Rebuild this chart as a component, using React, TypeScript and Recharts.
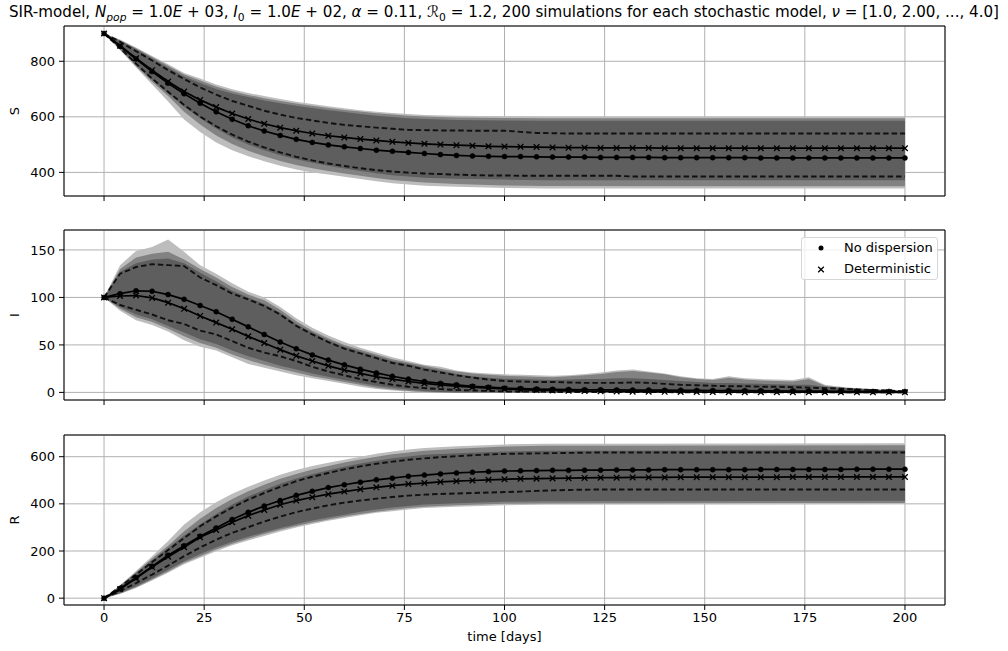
import React from 'react';
import {
  ComposedChart, Area, Line, XAxis, YAxis, CartesianGrid, ReferenceArea,
} from 'recharts';

// curves are sampled every 4 days (one marker per sample)
const DAYS = [0, 4, 8, 12, 16, 20, 24, 28, 32, 36, 40, 44, 48, 52, 56, 60, 64, 68, 72, 76, 80, 84, 88, 92, 96, 100,
  104, 108, 112, 116, 120, 124, 128, 132, 136, 140, 144, 148, 152, 156, 160, 164, 168, 172, 176, 180, 184, 188, 192, 196, 200];
const X_TICKS = [0, 25, 50, 75, 100, 125, 150, 175, 200];

// ---- S ----
const S_NODISP = [900, 854, 808, 763, 721, 683, 649, 618, 591, 568, 549, 533, 519, 508, 499, 492, 486, 480, 476, 472, 468,
  464, 461, 459, 458, 457, 457, 456, 455, 455, 455, 454, 454, 454, 454, 453, 453, 453, 453, 453, 453,
  452, 452, 452, 452, 452, 452, 452, 452, 452, 452];
const S_DET = [900, 856, 811, 768, 727, 691, 661, 635, 612, 592, 575, 561, 550, 540, 532, 526, 520, 515, 510, 506, 503,
  500, 498, 496, 494, 493, 492, 491, 490, 489, 489, 488, 488, 488, 488, 487, 487, 487, 487, 487, 487,
  487, 487, 487, 487, 487, 487, 487, 487, 487, 487];
const S_DASH_HI = [900, 870, 836, 803, 768, 736, 706, 680, 657, 640, 622, 608, 596, 587, 578, 571, 566, 561, 557, 553, 552,
  551, 551, 550, 550, 550, 546, 542, 541, 540, 540, 540, 540, 540, 540, 540, 540, 540, 540, 540, 540,
  540, 540, 540, 540, 540, 540, 540, 540, 540, 540];
const S_DASH_LO = [900, 848, 791, 738, 690, 643, 601, 566, 536, 511, 490, 472, 456, 443, 432, 423, 415, 408, 403, 399, 396,
  394, 392, 390, 389, 389, 388, 388, 388, 388, 388, 388, 388, 385, 385, 385, 385, 385, 385, 385, 385,
  385, 385, 385, 385, 385, 385, 385, 385, 385, 385];
// [day, low, high]
const S_BAND_OUTER = [[0, 900, 900], [4, 840, 878], [8, 778, 850], [12, 716, 819], [16, 655, 789], [20, 590, 758],
  [24, 545, 738], [28, 508, 716], [32, 480, 699], [36, 458, 686], [40, 440, 675], [44, 424, 664], [48, 410, 654],
  [52, 400, 646], [56, 392, 638], [60, 384, 631], [64, 376, 624], [68, 368, 618], [72, 361, 614], [76, 356, 610],
  [80, 352, 607], [88, 348, 604], [100, 344, 602], [110, 342, 600], [200, 342, 600]];
const S_BAND_MID = [[0, 900, 900], [4, 843, 876], [8, 782, 847], [12, 726, 815], [16, 675, 784], [20, 618, 752],
  [24, 572, 731], [28, 533, 709], [32, 502, 692], [36, 478, 679], [40, 458, 667], [44, 441, 657], [48, 427, 648],
  [52, 415, 640], [56, 405, 632], [60, 396, 625], [64, 388, 619], [68, 380, 613], [72, 373, 608], [76, 368, 604],
  [80, 364, 601], [88, 358, 598], [100, 353, 596], [110, 351, 595], [200, 350, 595]];
const S_BAND_CORE = [[0, 900, 900], [4, 845, 874], [8, 787, 843], [12, 733, 810], [16, 684, 777], [20, 636, 745],
  [24, 595, 722], [28, 558, 700], [32, 526, 684], [36, 500, 671], [40, 480, 659], [44, 462, 649], [48, 447, 640],
  [52, 435, 632], [56, 424, 624], [60, 414, 617], [64, 405, 610], [68, 397, 604], [72, 390, 599], [76, 385, 595],
  [80, 381, 592], [88, 377, 589], [100, 374, 587], [110, 372, 586], [200, 372, 586]];

// ---- I ----
const I_NODISP = [100, 104, 107, 106.5, 103, 98, 91.5, 85, 77, 69, 61, 53, 46, 39.5, 34, 29, 24.5, 20.5, 17, 14, 11.5,
  9.5, 8, 6.5, 5.5, 4.5, 4, 3.5, 3.2, 3, 2.8, 2.7, 2.6, 2.5, 2.4, 2.3, 2.2, 2.1, 2, 1.9, 1.8,
  1.7, 1.6, 1.5, 1.4, 1.3, 1.2, 1.1, 1, 1, 0.9];
const I_DET = [100, 101.5, 102, 99.5, 94.5, 88, 80.5, 73.5, 66.5, 59, 52, 45, 38.5, 33, 28, 23.5, 20, 16.5, 14, 11.5, 9.5,
  8, 6.5, 5.5, 4.5, 3.7, 3, 2.5, 2, 1.7, 1.4, 1.2, 1, 0.8, 0.7, 0.6, 0.5, 0.4, 0.35, 0.3, 0.25,
  0.2, 0.2, 0.2, 0.15, 0.15, 0.1, 0.1, 0.1, 0.1, 0.1];
const I_DASH_HI = [100, 125, 132, 135, 134, 133, 121, 113, 104, 98, 91, 82, 70, 61, 53, 46, 41, 36, 31, 28, 24,
  21, 18, 15.5, 13.5, 12, 11.5, 11, 11, 10.5, 10, 10, 10, 10.5, 10, 9, 8, 7.5, 7, 6.5, 6.5,
  6, 6, 5.5, 5, 4.5, 4, 3, 2.5, 2, 1];
const I_DASH_LO = [100, 92, 87, 82, 76, 72, 65, 61, 54, 47, 42, 38, 33, 27, 22, 18, 14, 11, 8, 6, 4.5,
  3.5, 2.5, 2, 1.5, 1, 1, 1, 0.5, 0.5, 0.5, 0.5, 0.5, 0.5, 0.5, 0.5, 0, 0, 0, 0, 0,
  0, 0, 0, 0, 0, 0, 0, 0, 0, 0];
const I_BAND_OUTER = [[0, 100, 100], [4, 86, 134], [8, 76, 149], [12, 71, 153], [16, 64, 161], [20, 55, 148], [24, 48, 134],
  [28, 44, 125], [32, 37, 115], [36, 30, 106], [40, 26, 100], [44, 22, 90], [48, 18, 78], [52, 15, 68], [56, 12, 60],
  [60, 9, 53], [64, 6, 47], [68, 3.5, 42], [72, 2, 37], [76, 1, 33], [80, 0, 29], [84, 0, 27], [88, 0, 23], [92, 0, 21],
  [96, 0, 20], [100, 0, 19], [104, 0, 18.5], [108, 0, 18], [112, 0, 17.5], [116, 0, 18], [120, 0, 19.5], [124, 0, 21],
  [128, 0, 23], [132, 0, 24], [136, 0, 22], [140, 0, 20], [144, 0, 17], [148, 0, 15], [152, 0, 14], [156, 0, 17],
  [160, 0, 15], [164, 0, 14], [168, 0, 13.5], [172, 0, 13], [176, 0, 16], [180, 0, 8], [184, 0, 6], [188, 0, 4.5],
  [192, 0, 3.5], [196, 0, 2.5], [200, 0, 1.5]];
const I_BAND_MID = [[0, 100, 100], [4, 88, 130], [8, 79, 142], [12, 74, 146], [16, 67, 148], [20, 59, 140], [24, 52, 130],
  [28, 47, 121], [32, 40, 111], [36, 34, 103], [40, 29, 97], [44, 25, 87], [48, 21, 75], [52, 17, 65], [56, 14, 57],
  [60, 11, 50], [64, 8, 45], [68, 5, 40], [72, 3, 35], [76, 1.5, 31.5], [80, 0.5, 28], [84, 0, 25], [88, 0, 22],
  [92, 0, 20], [96, 0, 18.5], [100, 0, 17.5], [104, 0, 17], [108, 0, 16.5], [112, 0, 16], [116, 0, 17], [120, 0, 18],
  [124, 0, 19.5], [128, 0, 21.5], [132, 0, 22.5], [136, 0, 21], [140, 0, 19], [144, 0, 16], [148, 0, 14], [152, 0, 13],
  [156, 0, 15.5], [160, 0, 13.5], [164, 0, 12.5], [168, 0, 12], [172, 0, 11.5], [176, 0, 14], [180, 0, 7], [184, 0, 5],
  [188, 0, 4], [192, 0, 3], [196, 0, 2], [200, 0, 1]];
const I_BAND_CORE = [[0, 100, 100], [4, 90, 127], [8, 82, 136], [12, 77, 140], [16, 70, 141], [20, 63, 136], [24, 56, 126],
  [28, 51, 117], [32, 44, 107], [36, 38, 100], [40, 33, 93], [44, 28, 84], [48, 24, 72], [52, 20, 63], [56, 16.5, 55],
  [60, 13, 48], [64, 10, 43], [68, 7, 38], [72, 5, 33], [76, 3, 30], [80, 1.5, 26], [84, 0.5, 23], [88, 0, 19.5],
  [92, 0, 17], [96, 0, 15.5], [100, 0, 14.5], [104, 0, 14], [108, 0, 13.5], [112, 0, 13], [116, 0, 13.5], [120, 0, 14],
  [124, 0, 14], [128, 0, 15], [132, 0, 15], [136, 0, 14], [140, 0, 13], [144, 0, 12], [148, 0, 11], [152, 0, 10],
  [156, 0, 10], [160, 0, 9.5], [164, 0, 9], [168, 0, 8.5], [172, 0, 8], [176, 0, 8], [180, 0, 6], [184, 0, 5],
  [188, 0, 4], [192, 0, 3], [196, 0, 2], [200, 0, 1]];

// ---- R ----
const R_NODISP = [0, 41, 87, 135, 182, 222, 263, 298, 334, 364, 391, 414, 436, 453, 469, 481, 492, 502, 509, 517, 522,
  527, 531, 534, 537, 539, 540, 541, 542, 542, 543, 543, 544, 544, 544, 545, 545, 545, 545, 545, 545,
  546, 546, 546, 546, 546, 546, 547, 547, 547, 547];
const R_DET = [0, 38, 84, 132, 176, 216, 258, 289, 322, 350, 374, 396, 414, 428, 441, 452, 462, 470, 477, 484, 488,
  493, 496, 499, 502, 504, 506, 507, 508, 509, 510, 511, 511, 512, 512, 512, 513, 513, 513, 513, 513,
  513, 513, 514, 514, 514, 514, 514, 514, 514, 514];
const R_DASH_HI = [0, 48, 100, 153, 204, 255, 305, 347, 384, 418, 446, 472, 496, 515, 531, 546, 559, 570, 579, 587, 593,
  598, 602, 606, 609, 612, 613, 614, 615, 616, 617, 618, 618, 618, 618, 618, 618, 618, 618, 618, 618,
  618, 618, 618, 618, 618, 618, 618, 618, 618, 618];
const R_DASH_LO = [0, 30, 64, 100, 138, 178, 215, 248, 277, 301, 325, 346, 365, 380, 394, 405, 414, 422, 429, 435, 439,
  442, 444, 446, 448, 450, 452, 455, 457, 459, 460, 461, 461, 461, 461, 461, 461, 461, 461, 461, 461,
  461, 461, 461, 461, 461, 461, 461, 461, 461, 461];
const R_BAND_OUTER = [[0, 0, 0], [4, 18, 56], [8, 43, 115], [12, 75, 178], [16, 108, 242], [20, 144, 312], [24, 171, 364],
  [28, 199, 407], [32, 224, 443], [36, 245, 473], [40, 264, 499], [44, 283, 523], [48, 300, 544], [52, 315, 561],
  [56, 328, 574], [60, 340, 587], [64, 352, 600], [68, 362, 612], [72, 369, 622], [76, 376, 630], [80, 382, 637],
  [88, 388, 644], [100, 394, 652], [110, 397, 655], [200, 399, 657]];
const R_BAND_MID = [[0, 0, 0], [4, 20, 53], [8, 46, 111], [12, 79, 168], [16, 113, 222], [20, 150, 284], [24, 178, 337],
  [28, 206, 382], [32, 231, 421], [36, 252, 453], [40, 272, 481], [44, 290, 506], [48, 306, 527], [52, 321, 546],
  [56, 334, 561], [60, 346, 575], [64, 357, 588], [68, 367, 600], [72, 375, 610], [76, 382, 618], [80, 388, 625],
  [88, 394, 634], [100, 400, 643], [110, 402, 646], [200, 404, 649]];
const R_BAND_CORE = [[0, 0, 0], [4, 22, 51], [8, 50, 106], [12, 84, 161], [16, 120, 213], [20, 157, 266], [24, 187, 314],
  [28, 215, 357], [32, 239, 397], [36, 260, 431], [40, 280, 459], [44, 298, 485], [48, 314, 507], [52, 329, 526],
  [56, 342, 542], [60, 354, 557], [64, 366, 571], [68, 376, 583], [72, 384, 593], [76, 391, 601], [80, 397, 608],
  [88, 403, 615], [100, 409, 622], [110, 411, 625], [200, 413, 627]];

const BAND_COLORS = ['#bdbdbd', '#828282', '#5e5e5e'];
const FONT = 'DejaVu Sans';

const toLine = (vals: number[]) => DAYS.map((day, i) => ({ day, v: vals[i] }));
const toBand = (rows: number[][]) => rows.map(([day, lo, hi]) => ({ day, range: [lo, hi] }));

const XMarker = ({ cx, cy }: any) => {
  if (cx == null || cy == null) return null;
  const s = 2.8;
  return (
    <path
      d={`M${cx - s},${cy - s}L${cx + s},${cy + s}M${cx - s},${cy + s}L${cx + s},${cy - s}`}
      stroke="#000" strokeWidth={1.3} fill="none"
    />
  );
};

const AxisName = ({ text }: any) => (
  <text x={19} y={111} transform="rotate(-90 19 111)" textAnchor="middle" fontSize={13} fill="#000">
    {text}
  </text>
);

interface PanelProps {
  name: string;
  top: number;
  height: number;
  domain: [number, number];
  yTicks: number[];
  bands: number[][][];
  dashHi: number[];
  dashLo: number[];
  noDisp: number[];
  det: number[];
  bottom?: boolean;
}

function Panel({ name, top, height, domain, yTicks, bands, dashHi, dashLo, noDisp, det, bottom }: PanelProps) {
  return (
    <div style={{ position: 'absolute', left: 0, top }}>
      <ComposedChart width={1008} height={height} margin={{ top: 26, right: 63, bottom: 0, left: 0 }}>
        <XAxis
          dataKey="day"
          type="number"
          domain={[-10, 210]}
          ticks={X_TICKS}
          allowDataOverflow
          axisLine={false}
          tickSize={5}
          tickMargin={3}
          tickLine={{ stroke: '#000' }}
          tick={{ fontSize: 13, fill: '#000' }}
          tickFormatter={bottom ? undefined : () => ''}
          height={bottom ? 46 : 30}
          label={bottom ? { value: 'time [days]', position: 'insideBottom', offset: 10, fontSize: 13, fill: '#000' } : undefined}
        />
        <YAxis
          type="number"
          domain={domain}
          ticks={yTicks}
          allowDataOverflow
          width={64}
          axisLine={false}
          tickSize={5}
          tickMargin={4}
          tickLine={{ stroke: '#000' }}
          tick={{ fontSize: 13, fill: '#000' }}
          label={<AxisName text={name} />}
        />
        {bands.map((b, i) => (
          <Area
            key={i}
            data={toBand(b)}
            dataKey="range"
            type="linear"
            stroke="none"
            fill={BAND_COLORS[i]}
            fillOpacity={1}
            activeDot={false}
            isAnimationActive={false}
          />
        ))}
        <CartesianGrid stroke="#b0b0b0" strokeWidth={1} />
        <Line data={toLine(dashHi)} dataKey="v" type="linear" stroke="#111" strokeWidth={1.9}
          strokeDasharray="5.5 3" dot={false} activeDot={false} isAnimationActive={false} />
        <Line data={toLine(dashLo)} dataKey="v" type="linear" stroke="#111" strokeWidth={1.9}
          strokeDasharray="5.5 3" dot={false} activeDot={false} isAnimationActive={false} />
        <Line data={toLine(det)} dataKey="v" type="linear" stroke="#000" strokeWidth={1.7}
          dot={(p: any) => <XMarker key={`x-${p.index}`} cx={p.cx} cy={p.cy} />}
          activeDot={false} isAnimationActive={false} />
        <Line data={toLine(noDisp)} dataKey="v" type="linear" stroke="#000" strokeWidth={1.7}
          dot={{ r: 2.5, fill: '#000', stroke: '#000', strokeWidth: 0.5 }}
          activeDot={false} isAnimationActive={false} />
        <ReferenceArea x1={-10} x2={210} y1={domain[0]} y2={domain[1]} fill="none" stroke="#000"
          strokeWidth={1} ifOverflow="visible" />
      </ComposedChart>
    </div>
  );
}

const Title = () => (
  <svg width={1008} height={26} style={{ position: 'absolute', left: 0, top: 0 }}>
    <text x={504} y={17} textAnchor="middle" fontSize={15.5} fill="#000"
      style={{ fontFamily: "'DejaVu Sans Condensed', 'DejaVu Sans'", fontStretch: 'condensed' }}
      textLength={990} lengthAdjust="spacingAndGlyphs">
      SIR-model, <tspan fontStyle="italic">N</tspan><tspan fontStyle="italic" fontSize={11} dy={3.5}>pop</tspan><tspan dy={-3.5}> = 1.0</tspan><tspan fontStyle="italic">E</tspan> + 03, <tspan fontStyle="italic">I</tspan><tspan fontSize={11} dy={3.5}>0</tspan><tspan dy={-3.5}> = 1.0</tspan><tspan fontStyle="italic">E</tspan> + 02, <tspan fontStyle="italic">α</tspan> = 0.11, <tspan fontStyle="italic">ℛ</tspan><tspan fontSize={11} dy={3.5}>0</tspan><tspan dy={-3.5}> = 1.2, 200 simulations for each stochastic model, </tspan><tspan fontStyle="italic">ν</tspan> = [1.0, 2.00, ..., 4.0]
    </text>
  </svg>
);

const LegendBox = () => (
  <div style={{
    position: 'absolute', left: 801, top: 237, width: 137, height: 43, boxSizing: 'border-box',
    border: '1px solid #d6d6d6', borderRadius: 3, background: 'rgba(255,255,255,0.8)', fontSize: 13,
  }}>
    <svg width={20} height={42} style={{ position: 'absolute', left: 9, top: 0 }}>
      <circle cx={10} cy={10} r={2.5} fill="#000" />
      <path d="M7.2,28.7L12.8,34.3M7.2,34.3L12.8,28.7" stroke="#000" strokeWidth={1.3} />
    </svg>
    <div style={{ position: 'absolute', left: 42, top: 2, lineHeight: '16px' }}>No dispersion</div>
    <div style={{ position: 'absolute', left: 42, top: 23, lineHeight: '16px' }}>Deterministic</div>
  </div>
);

export default function App() {
  return (
    <div style={{
      position: 'absolute', left: 0, top: 0, width: 1008, height: 651,
      background: '#fff', fontFamily: FONT, overflow: 'hidden',
    }}>
      <Title />
      <Panel name="S" top={0} height={226} domain={[315, 927]} yTicks={[400, 600, 800]}
        bands={[S_BAND_OUTER, S_BAND_MID, S_BAND_CORE]}
        dashHi={S_DASH_HI} dashLo={S_DASH_LO} noDisp={S_NODISP} det={S_DET} />
      <Panel name="I" top={204} height={226} domain={[-8, 171]} yTicks={[0, 50, 100, 150]}
        bands={[I_BAND_OUTER, I_BAND_MID, I_BAND_CORE]}
        dashHi={I_DASH_HI} dashLo={I_DASH_LO} noDisp={I_NODISP} det={I_DET} />
      <Panel name="R" top={409} height={242} domain={[-29, 692]} yTicks={[0, 200, 400, 600]}
        bands={[R_BAND_OUTER, R_BAND_MID, R_BAND_CORE]}
        dashHi={R_DASH_HI} dashLo={R_DASH_LO} noDisp={R_NODISP} det={R_DET} bottom />
      <LegendBox />
    </div>
  );
}
